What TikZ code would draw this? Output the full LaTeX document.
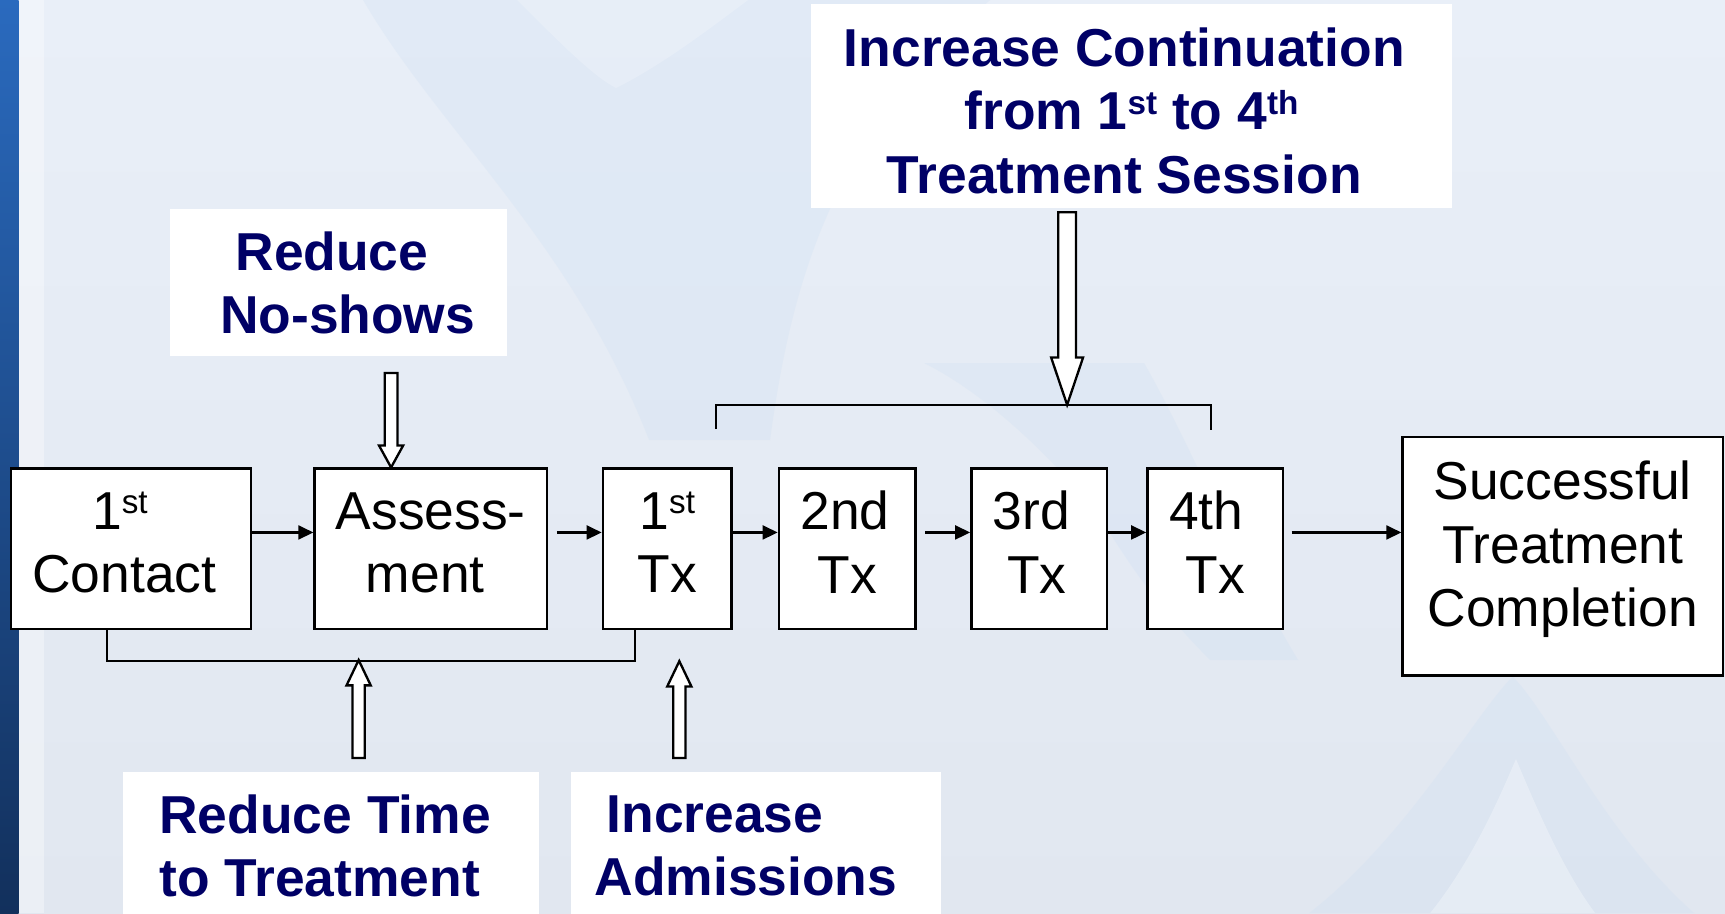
\documentclass[tikz,border=0pt]{standalone}
\usepackage{fontspec}
\setmainfont{Liberation Sans}
\usetikzlibrary{arrows.meta,calc}
\definecolor{navy}{RGB}{0,0,102}
\definecolor{bgtop}{RGB}{233,239,248}
\definecolor{bgbot}{RGB}{225,231,240}
\definecolor{bartop}{RGB}{42,106,190}
\definecolor{barbot}{RGB}{18,48,92}
\definecolor{wmark}{RGB}{205,223,243}
\newcommand{\sups}[1]{\raisebox{4pt}{\fontsize{8.6pt}{8.6pt}\selectfont #1}}
\newcommand{\boxfont}{\fontsize{13.8pt}{16.4pt}\selectfont}
\newcommand{\lblfont}{\fontsize{13.8pt}{16.4pt}\selectfont\bfseries}
\newcommand{\hollowarrow}[5]{%
  \coordinate (hb) at ($(#2)!#5!(#1)$);
  \draw[blk] ([xshift=-#3]#1) -- ([xshift=-#3]hb) -- ([xshift=-#4]hb) -- (#2)
    -- ([xshift=#4]hb) -- ([xshift=#3]hb) -- ([xshift=#3]#1) -- cycle;}
\begin{document}
\begin{tikzpicture}[x=0.01cm,y=-0.01cm,
  stepbox/.style={draw=black, line width=0.6pt, fill=white, inner sep=0pt,
    align=center, minimum height=1.46cm, font=\boxfont},
  lbl/.style={fill=white, inner sep=0pt, text=navy, font=\lblfont},
  flow/.style={draw=black, line width=0.6pt, -{Triangle[length=3.9pt,width=3.6pt]}},
  link/.style={draw=black, line width=0.6pt},
  blk/.style={draw=black, line width=0.6pt, fill=white, line join=miter},
  wm/.style={fill=wmark, opacity=0.28}]
% background
\shade[top color=bgtop, bottom color=bgbot] (0,0) rectangle (1568,830);
% faint watermark shapes
\fill[wm] (330,0) .. controls (400,120) and (520,220) .. (590,400)
  -- (700,400) .. controls (720,250) and (760,120) .. (900,0) -- cycle;
\fill[white, opacity=0.2] (470,0) .. controls (510,40) and (540,70) .. (560,80)
  .. controls (600,60) and (640,30) .. (680,0) -- cycle;
\fill[wm] (840,330) .. controls (900,360) and (960,420) .. (1000,470)
  .. controls (1030,520) and (1060,560) .. (1100,600) -- (1180,600)
  .. controls (1120,500) and (1080,400) .. (1040,330) -- cycle;
\fill[wm] (1190,830) .. controls (1280,760) and (1340,650) .. (1375,615)
  .. controls (1410,650) and (1460,760) .. (1540,830) -- cycle;
\fill[white, opacity=0.3] (1300,830) .. controls (1340,780) and (1365,720) .. (1378,690)
  .. controls (1395,730) and (1420,790) .. (1450,830) -- cycle;
\shade[top color=bartop, bottom color=barbot] (0,0) rectangle (17,830);
\fill[white, opacity=0.35] (17,0) rectangle (40,830);
\useasboundingbox (0,0) rectangle (1568,830);

% step boxes
\newcommand{\bst}{\rule[-0.12cm]{0pt}{0pt}}
\node[stepbox, minimum width=2.18cm] (c1) at (119,499) {1\sups{st}\kern0.2cm\\Contact\kern0.12cm\bst};
\node[stepbox, minimum width=2.11cm] (asm) at (391.5,499) {Assess-\\ment\kern0.1cm\bst};
\node[stepbox, minimum width=1.17cm] (t1) at (606.5,499) {1\sups{st}\\Tx\bst};
\node[stepbox, minimum width=1.24cm] (t2) at (770,499) {2nd\kern0.04cm\\Tx\bst};
\node[stepbox, minimum width=1.23cm] (t3) at (944.5,499) {3rd\kern0.14cm\\Tx\kern0.04cm\bst};
\node[stepbox, minimum width=1.23cm] (t4) at (1104.5,499) {4th\kern0.16cm\\Tx\bst};
\node[stepbox, minimum width=2.91cm, minimum height=2.17cm] (stc) at (1420.5,505.5)
  {Successful\\Treatment\\Completion\rule[-0.22cm]{0pt}{0pt}};

% flow arrows
\draw[flow] ([yshift=0.15cm]c1.east) -- ([yshift=0.15cm]c1.east -| asm.west);
\draw[flow, shorten <=0.08cm] ([yshift=0.15cm]asm.east) -- ([yshift=0.15cm]asm.east -| t1.west);
\draw[flow] ([yshift=0.15cm]t1.east) -- ([yshift=0.15cm]t1.east -| t2.west);
\draw[flow, shorten <=0.08cm] ([yshift=0.15cm]t2.east) -- ([yshift=0.15cm]t2.east -| t3.west);
\draw[flow] ([yshift=0.15cm]t3.east) -- ([yshift=0.15cm]t3.east -| t4.west);
\draw[flow, shorten <=0.07cm] ([yshift=0.15cm]t4.east) -- ([yshift=0.15cm]t4.east -| stc.west);

% brackets
\draw[link] ([xshift=-0.22cm]c1.south) -- ++(0,28) -| ([xshift=-0.295cm]t1.south);
\coordinate (brL) at (651,390);
\coordinate (brR) at (1101,391);
\coordinate (brTip) at (970,368);
\draw[link] (brL) |- (brTip) -| (brR);

% labels
\node[lbl, align=left, minimum width=3.06cm, minimum height=1.34cm] (ns) at (308,257)
  {\kern0.30cm Reduce\\\kern0.16cm No-shows};
\node[lbl, align=center, minimum width=5.83cm, minimum height=1.85cm] (cont) at (1028.5,96.5)
  {\rule{0pt}{0.43cm}Increase Continuation\kern0.13cm\\from 1\sups{st} to 4\sups{th}\\Treatment Session\kern0.13cm};
\node[lbl, align=left, minimum width=3.78cm, minimum height=1.34cm] (rt) at (301,769)
  {Reduce Time\kern0.11cm\\to Treatment};
\node[lbl, align=left, minimum width=3.36cm, minimum height=1.34cm] (adm) at (687,769)
  {\kern0.11cm Increase\\Admissions\kern0.18cm};

% hollow arrows
\coordinate (nsTail) at (355.5,339);
\coordinate (nsTip) at (nsTail |- asm.north);
\hollowarrow{nsTail}{nsTip}{0.058cm}{0.11cm}{0.20cm}
\coordinate (contTail) at (970,193);
\hollowarrow{contTail}{brTip}{0.08cm}{0.145cm}{0.43cm}
\coordinate (rtTip) at (326,600);
\coordinate (rtTail) at (326,689);
\hollowarrow{rtTail}{rtTip}{0.056cm}{0.11cm}{0.23cm}
\coordinate (admTip) at (617.5,601);
\coordinate (admTail) at (617.5,689);
\hollowarrow{admTail}{admTip}{0.056cm}{0.11cm}{0.23cm}
\end{tikzpicture}
\end{document}
